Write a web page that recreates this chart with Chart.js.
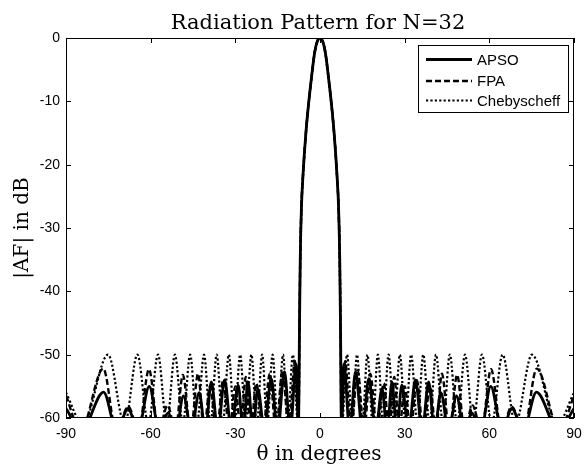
<!DOCTYPE html>
<html>
<head>
<meta charset="utf-8">
<script src="https://cdn.jsdelivr.net/npm/chart.js@4.4.0/dist/chart.umd.min.js"></script>
<style>
  body { margin: 0; background: #fff; }
</style>
</head>
<body>
<canvas id="pattern" width="587" height="467"></canvas>
<script>
// main lobe, nearly the same for all three arrays
var mainTheta = [-7.6, -7.3, -7.0, -6.6, -6, -5, -4, -3, -2, -1, 0, 1, 2, 3, 4, 5, 6, 6.6, 7.0, 7.3, 7.6];
var mainDb = [-62, -47, -35, -27, -21.5, -15, -10.2, -6.2, -2.6, -0.6, 0, -0.6, -2.6, -6.2, -10.2, -15, -21.5, -27, -35, -47, -62];

// APSO side lobes
var apsoLeftTheta = [-90, -84.5, -76.7, -72.0, -68.0, -64.5, -60.5, -57.0, -53.8, -51.0, -48.4, -45.6, -42.8, -40.6, -38.5, -36.2, -33.8, -31.4, -29.0, -27.2, -25.5, -23.8, -22.0, -19.7, -17.3, -15.0, -12.6, -10.5, -8.5];
var apsoLeftDb = [-58.5, -62, -55.9, -62, -58.5, -62, -55.0, -62, -59.2, -62, -56.5, -62, -56.0, -62, -54.3, -62, -54.0, -62, -54.8, -62, -54.3, -62, -55.4, -62, -53.8, -62, -52.7, -62, -51.5];
var apsoRightTheta = [8.5, 10.5, 12.6, 15.0, 17.3, 19.7, 22.0, 23.8, 25.5, 27.2, 29.0, 31.4, 33.8, 36.2, 38.5, 40.6, 42.8, 45.6, 48.4, 51.0, 53.8, 57.0, 60.5, 64.5, 68.0, 72.0, 76.7, 84.5, 90];
var apsoRightDb = [-51.5, -62, -52.7, -62, -53.8, -62, -55.4, -62, -54.3, -62, -54.8, -62, -54.0, -62, -54.3, -62, -56.0, -62, -56.5, -62, -59.2, -62, -55.0, -62, -58.5, -62, -55.9, -62, -58.5];

// FPA side lobes
var fpaLeftTheta = [-90, -84.8, -76.8, -72.2, -67.9, -64.3, -60.6, -57.2, -54.0, -51.2, -48.6, -45.8, -43.2, -41.1, -39.0, -36.6, -34.3, -32.1, -30.0, -28.1, -26.3, -24.5, -22.6, -20.2, -17.8, -15.6, -13.3, -11.0, -8.9];
var fpaLeftDb = [-56.5, -62, -52.2, -62, -58.2, -62, -52.3, -62, -58.0, -62, -53.2, -62, -53.0, -62, -55.0, -62, -54.0, -62, -55.0, -62, -53.5, -62, -54.5, -62, -53.0, -62, -52.5, -62, -51.0];
var fpaRightTheta = [8.9, 11.0, 13.3, 15.6, 17.8, 20.2, 22.6, 24.5, 26.3, 28.1, 30.0, 32.1, 34.3, 36.6, 39.0, 41.1, 43.2, 45.8, 48.6, 51.2, 54.0, 57.2, 60.6, 64.3, 67.9, 72.2, 76.8, 84.8, 90];
var fpaRightDb = [-51.0, -62, -52.5, -62, -53.0, -62, -54.5, -62, -53.5, -62, -55.0, -62, -54.0, -62, -55.0, -62, -53.0, -62, -53.2, -62, -58.0, -62, -52.3, -62, -58.2, -62, -52.2, -62, -56.5];

// Chebyscheff side lobes, all at -50 dB
var chebLeftTheta = [-90, -84.0, -75.1, -69.2, -64.7, -60.8, -57.4, -54.3, -51.4, -48.6, -46.0, -43.6, -41.1, -38.8, -36.6, -34.5, -32.3, -30.3, -28.3, -26.3, -24.3, -22.4, -20.5, -18.7, -16.8, -15.0, -13.1, -11.4, -9.6];
var chebLeftDb = [-56, -61, -50, -61, -50, -61, -50, -61, -50, -61, -50, -61, -50, -61, -50, -61, -50, -61, -50, -61, -50, -61, -50, -61, -50, -61, -50, -61, -50];
var chebRightTheta = [9.6, 11.4, 13.1, 15.0, 16.8, 18.7, 20.5, 22.4, 24.3, 26.3, 28.3, 30.3, 32.3, 34.5, 36.6, 38.8, 41.1, 43.6, 46.0, 48.6, 51.4, 54.3, 57.4, 60.8, 64.7, 69.2, 75.1, 84.0, 90];
var chebRightDb = [-50, -61, -50, -61, -50, -61, -50, -61, -50, -61, -50, -61, -50, -61, -50, -61, -50, -61, -50, -61, -50, -61, -50, -61, -50, -61, -50, -61, -56];

var xTicks = [-90, -60, -30, 0, 30, 60, 90];
var yTicks = [0, -10, -20, -30, -40, -50, -60];
var labels = ["APSO", "FPA", "Chebyscheff"];

function pts(th, db) {
    var out = [];
    for (var i = 0; i < th.length; i++) out.push({x: th[i], y: db[i]});
    return out;
}

var apso = pts(apsoLeftTheta.concat(mainTheta, apsoRightTheta), apsoLeftDb.concat(mainDb, apsoRightDb));
var fpa = pts(fpaLeftTheta.concat(mainTheta, fpaRightTheta), fpaLeftDb.concat(mainDb, fpaRightDb));
var cheb = pts(chebLeftTheta.concat(mainTheta, chebRightTheta), chebLeftDb.concat(mainDb, chebRightDb));

var dashes = [[], [6, 3], [2.2, 2.2]];
var widths = [2.8, 2.4, 2.2];

// matlab style box, inward ticks, title, axis labels and legend
var matlabLook = {
    id: 'matlabLook',
    afterDraw: function (chart) {
        var ctx = chart.ctx;
        var a = chart.chartArea;
        var xs = chart.scales.x, ys = chart.scales.y;
        ctx.save();
        ctx.strokeStyle = '#000';
        ctx.lineWidth = 1;
        ctx.setLineDash([]);
        ctx.strokeRect(a.left + 0.5, a.top + 0.5, a.right - a.left - 1, a.bottom - a.top - 1);
        ctx.beginPath();
        xTicks.forEach(function (v) {
            var px = Math.round(xs.getPixelForValue(v)) + 0.5;
            ctx.moveTo(px, a.bottom); ctx.lineTo(px, a.bottom - 5);
            ctx.moveTo(px, a.top); ctx.lineTo(px, a.top + 5);
        });
        yTicks.forEach(function (v) {
            var py = Math.round(ys.getPixelForValue(v)) + 0.5;
            ctx.moveTo(a.left, py); ctx.lineTo(a.left + 5, py);
            ctx.moveTo(a.right, py); ctx.lineTo(a.right - 5, py);
        });
        ctx.stroke();

        ctx.fillStyle = '#000';
        ctx.font = '21px "DejaVu Serif"';
        ctx.textAlign = 'center';
        ctx.textBaseline = 'alphabetic';
        ctx.fillText('Radiation Pattern for N=32', (a.left + a.right) / 2 - 2, 29);
        ctx.font = '20px "DejaVu Serif"';
        ctx.fillText('\u03b8 in degrees', (a.left + a.right) / 2 - 1, 460);
        ctx.save();
        ctx.translate(28, (a.top + a.bottom) / 2);
        ctx.rotate(-Math.PI / 2);
        ctx.fillText('|AF| in dB', 0, 0);
        ctx.restore();

        // legend
        var lx = 418, ly = 45, lw = 150, lh = 67;
        ctx.fillStyle = '#fff';
        ctx.fillRect(lx, ly, lw, lh);
        ctx.strokeStyle = '#000';
        ctx.lineWidth = 1;
        ctx.strokeRect(lx + 0.5, ly + 0.5, lw, lh);
        var rows = [59.5, 81, 100.5];
        ctx.font = '15px "Liberation Sans"';
        ctx.textAlign = 'left';
        ctx.textBaseline = 'middle';
        for (var i = 0; i < labels.length; i++) {
            ctx.beginPath();
            ctx.setLineDash(dashes[i]);
            ctx.lineWidth = widths[i];
            ctx.moveTo(426, rows[i]);
            ctx.lineTo(472, rows[i]);
            ctx.stroke();
            ctx.setLineDash([]);
            ctx.fillStyle = '#000';
            ctx.fillText(labels[i], 477, rows[i] + 1);
        }
        ctx.restore();
    }
};

function ds(label, data, i) {
    return {
        label: label,
        data: data,
        borderColor: '#000',
        borderWidth: widths[i],
        borderDash: dashes[i],
        pointRadius: 0,
        fill: false,
        cubicInterpolationMode: 'monotone',
        clip: 0
    };
}

new Chart(document.getElementById('pattern'), {
    type: 'line',
    data: {
        datasets: [ds(labels[0], apso, 0), ds(labels[1], fpa, 1), ds(labels[2], cheb, 2)]
    },
    options: {
        responsive: false,
        animation: false,
        layout: { padding: { top: 38, right: 13, left: 0, bottom: 0 } },
        elements: { line: { capBezierPoints: false } },
        plugins: { legend: { display: false }, title: { display: false }, tooltip: { enabled: false } },
        scales: {
            x: {
                type: 'linear', min: -90, max: 90,
                afterFit: function (s) { s.height = 49; s.paddingLeft = 0; s.paddingRight = 0; },
                afterBuildTicks: function (s) { s.ticks = xTicks.map(function (v) { return {value: v}; }); },
                grid: { display: false, drawTicks: false },
                border: { display: false },
                ticks: { color: '#000', padding: 8, maxRotation: 0, font: { family: 'Liberation Sans', size: 14 } }
            },
            y: {
                type: 'linear', min: -60, max: 0,
                afterFit: function (s) { s.width = 66; s.paddingTop = 0; s.paddingBottom = 0; },
                afterBuildTicks: function (s) { s.ticks = yTicks.map(function (v) { return {value: v}; }); },
                grid: { display: false, drawTicks: false },
                border: { display: false },
                ticks: { color: '#000', padding: 6, font: { family: 'Liberation Sans', size: 14 },
                    callback: function (v) { return String(v); } }
            }
        }
    },
    plugins: [matlabLook]
});
</script>
</body>
</html>
